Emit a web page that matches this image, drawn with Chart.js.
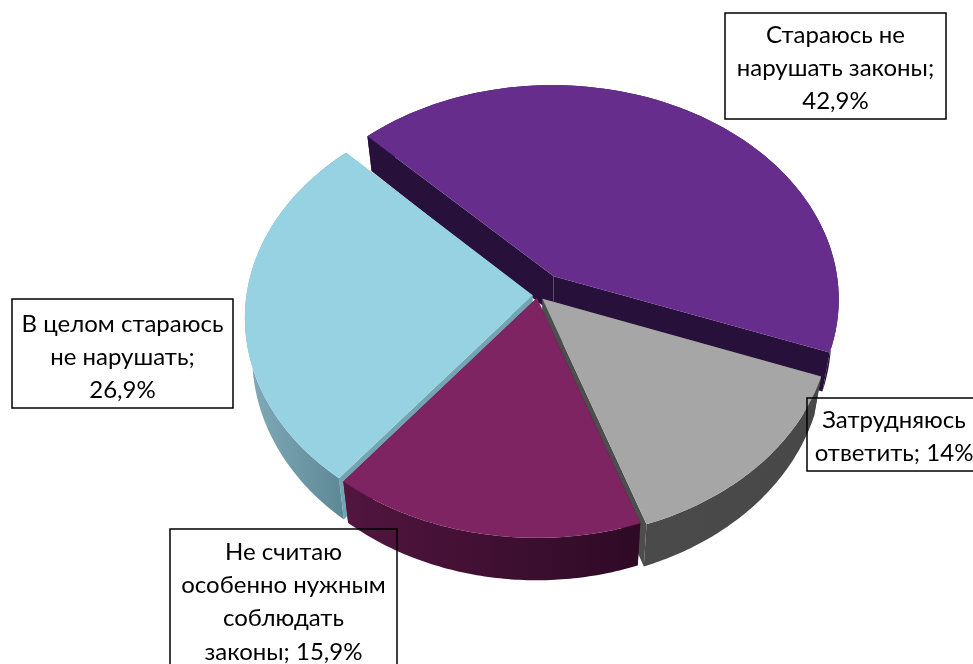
<!DOCTYPE html>
<html>
<head>
<meta charset="utf-8">
<style>
  html, body { margin: 0; background: #fff; overflow: hidden; }
  canvas { display: block; }
</style>
<script src="https://cdn.jsdelivr.net/npm/chart.js@4"></script>
</head>
<body>
<canvas id="myPie" width="973" height="664"></canvas>
<script>
// data
const categories = ['Стараюсь не нарушать законы', 'Затрудняюсь ответить', 'Не считаю особенно нужным соблюдать законы', 'В целом стараюсь не нарушать'];
const shares = [42.9, 14, 15.9, 26.9];
const shareLabels = ['42,9%', '14%', '15,9%', '26,9%'];
const topColors = ['#662d8c', '#a6a6a6', '#7e2463', '#97d2e2'];
const explode = [30, 7, 4, 5];

// side wall colours, left to right
const wallColors = [['#27113a', '#27113a'], ['#4a4a4a', '#484848'], ['#52153f', '#2e0a25'], ['#82acba', '#5c8795']];
const cutColors = ['#27113a', '#4d4d4d', '#4a1239', '#74a4b2'];

// label boxes
const labelBoxes = [
  { x: 725, y: 13, w: 221, h: 106, top: 22, lines: ['Стараюсь не', 'нарушать законы;', shareLabels[0]] },
  { x: 807, y: 398, w: 174, h: 73, top: 22, lines: ['Затрудняюсь', 'ответить; ' + shareLabels[1]] },
  { x: 170, y: 529, w: 227, h: 140, top: 23, lines: ['Не считаю', 'особенно нужным', 'соблюдать', 'законы; ' + shareLabels[2]] },
  { x: 12, y: 299, w: 221, h: 109, top: 25, lines: ['В целом стараюсь', 'не нарушать;', shareLabels[3]] }
];

// fake 3d view of the flat pie
const tilt = 0.75;
const eye = 9.7;
const depth = 38;
const bottomShrink = 0.975;

function project(arc, dx, dy, low) {
  let R = arc.outerRadius;
  let f = eye * R / (eye * R - dy);
  let x = arc.x + dx * f * (low ? bottomShrink : 1);
  let y = arc.y + dy * tilt * f + (low ? depth * f : 0);
  return [x, y];
}

function rimPoints(arc, low) {
  let pts = [];
  let off = arc.options.offset || 0;
  let mid = (arc.startAngle + arc.endAngle) / 2;
  let ox = Math.cos(mid) * off, oy = Math.sin(mid) * off;
  let steps = 80;
  for (let i = 0; i <= steps; i++) {
    let a = arc.startAngle + (arc.endAngle - arc.startAngle) * i / steps;
    pts.push(project(arc, ox + Math.cos(a) * arc.outerRadius, oy + Math.sin(a) * arc.outerRadius, low));
  }
  return { pts: pts, apex: project(arc, ox, oy, low) };
}

function fillPoly(ctx, pts, color) {
  ctx.beginPath();
  pts.forEach((p, i) => i ? ctx.lineTo(p[0], p[1]) : ctx.moveTo(p[0], p[1]));
  ctx.closePath();
  ctx.fillStyle = color;
  ctx.fill();
}

const pie3d = {
  id: 'pie3d',
  beforeDatasetDraw(chart) {
    let ctx = chart.ctx;
    let arcs = chart.getDatasetMeta(0).data;
    // back to front
    [0, 3, 1, 2].forEach((i) => {
      let arc = arcs[i];
      let up = rimPoints(arc, false);
      let low = rimPoints(arc, true);
      let n = up.pts.length - 1;
      fillPoly(ctx, [up.apex, up.pts[0], low.pts[0], low.apex], cutColors[i]);
      fillPoly(ctx, [up.apex, up.pts[n], low.pts[n], low.apex], cutColors[i]);
      let xs = up.pts.map((p) => p[0]);
      let grad = ctx.createLinearGradient(Math.min(...xs), 0, Math.max(...xs), 0);
      grad.addColorStop(0, wallColors[i][0]);
      grad.addColorStop(1, wallColors[i][1]);
      fillPoly(ctx, up.pts.concat(low.pts.slice().reverse()), grad);
      fillPoly(ctx, [up.apex].concat(up.pts), arc.options.backgroundColor);
    });
    return false;
  },
  afterDraw(chart) {
    let ctx = chart.ctx;
    ctx.save();
    ctx.font = '24px Lato, "Noto Sans", sans-serif';
    ctx.textAlign = 'center';
    ctx.textBaseline = 'middle';
    labelBoxes.forEach((box) => {
      ctx.strokeStyle = '#000';
      ctx.lineWidth = 1.5;
      ctx.strokeRect(box.x, box.y, box.w, box.h);
      ctx.fillStyle = '#000';
      box.lines.forEach((line, i) => {
        ctx.fillText(line, box.x + box.w / 2, box.y + box.top + i * 33.3);
      });
    });
    ctx.restore();
  }
};

new Chart(document.getElementById('myPie'), {
  type: 'pie',
  data: {
    labels: categories,
    datasets: [{
      data: shares,
      backgroundColor: topColors,
      offset: explode,
      borderWidth: 0
    }]
  },
  options: {
    responsive: false,
    animation: false,
    rotation: -44.5,
    radius: 286,
    layout: { padding: { left: 102, bottom: 74 } },
    plugins: { legend: { display: false }, tooltip: { enabled: false } }
  },
  plugins: [pie3d]
});
</script>
</body>
</html>
